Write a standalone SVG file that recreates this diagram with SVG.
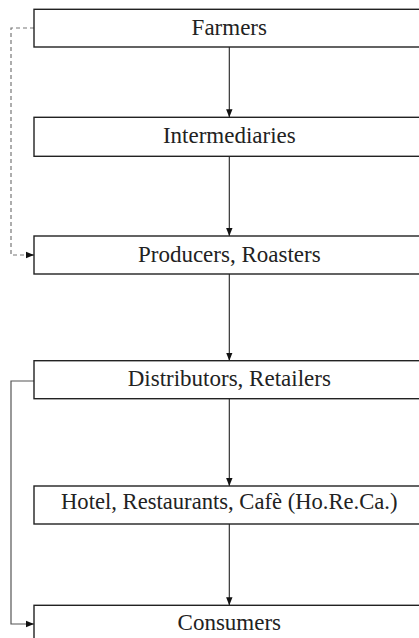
<svg xmlns="http://www.w3.org/2000/svg" width="419" height="638" viewBox="0 0 419 638">
<defs>
<style>
.box{fill:#fff;stroke:#222;stroke-width:1.4}
.lbl{font-family:"Liberation Serif","Times New Roman",serif;font-size:23px;fill:#222;text-anchor:middle}
.flow{fill:none;stroke:#222;stroke-width:1.1}
.side{fill:none;stroke:#555;stroke-width:1.2}
.dash{fill:none;stroke:#777;stroke-width:1.2;stroke-dasharray:4,3}
</style>
<marker id="ah" viewBox="0 0 10 10" refX="10" refY="5" markerWidth="8" markerHeight="8" markerUnits="userSpaceOnUse" orient="auto">
<path d="M0,1 L10,5 L0,9 Z" fill="#111"/>
</marker>
</defs>
<g id="connectors">
<line class="flow" x1="229.3" y1="47" x2="229.3" y2="117.3" marker-end="url(#ah)"/>
<line class="flow" x1="229.3" y1="156.3" x2="229.3" y2="236" marker-end="url(#ah)"/>
<line class="flow" x1="229.3" y1="274" x2="229.3" y2="360.7" marker-end="url(#ah)"/>
<line class="flow" x1="229.3" y1="398.7" x2="229.3" y2="486" marker-end="url(#ah)"/>
<line class="flow" x1="229.3" y1="524" x2="229.3" y2="605.3" marker-end="url(#ah)"/>
<polyline class="dash" points="34,28 11,28 11,255 26,255"/>
<line x1="26" y1="255" x2="34" y2="255" stroke="#222" stroke-width="1" marker-end="url(#ah)"/>
<polyline class="side" points="34,381 11,381 11,624 34,624" marker-end="url(#ah)"/>
</g>
<g id="farmers">
<rect class="box" x="34" y="9.3" width="400" height="37.7"/>
<text class="lbl" x="229.3" y="35.3">Farmers</text>
</g>
<g id="intermediaries">
<rect class="box" x="34" y="117.3" width="400" height="39"/>
<text class="lbl" x="229.3" y="143.3">Intermediaries</text>
</g>
<g id="producers">
<rect class="box" x="34" y="236" width="400" height="38"/>
<text class="lbl" x="229.3" y="262.3">Producers, Roasters</text>
</g>
<g id="distributors">
<rect class="box" x="34" y="360.7" width="400" height="38"/>
<text class="lbl" x="229.3" y="385.7">Distributors, Retailers</text>
</g>
<g id="horeca">
<rect class="box" x="34" y="486" width="400" height="38"/>
<text class="lbl" x="229.3" y="509" textLength="336.5" lengthAdjust="spacingAndGlyphs">Hotel, Restaurants, Cafè (Ho.Re.Ca.)</text>
</g>
<g id="consumers">
<rect class="box" x="34" y="605.3" width="400" height="38"/>
<text class="lbl" x="229.3" y="630">Consumers</text>
</g>
</svg>
